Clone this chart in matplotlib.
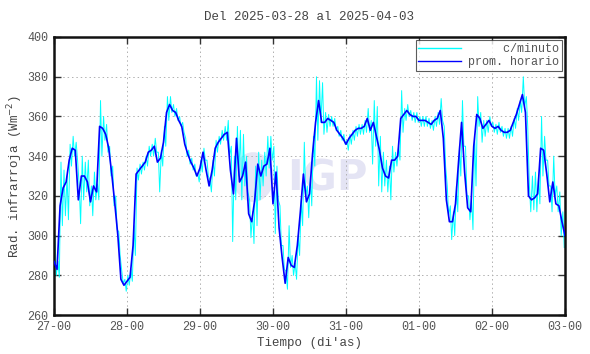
import numpy as np
import matplotlib
matplotlib.use("Agg")
import matplotlib.pyplot as plt
from matplotlib.patches import Ellipse

plt.rcParams['font.family'] = ['Liberation Mono', 'DejaVu Sans Mono']

title = "Del 2025-03-28 al 2025-04-03"
xlabel = "Tiempo (di'as)"
ylabel = "Rad. infrarroja (Wm$^{-2}$)"
tick_labels = ["27-00", "28-00", "29-00", "30-00", "31-00", "01-00", "02-00", "03-00"]
label_min = "c/minuto"
label_hour = "prom. horario"

# hourly mean (prom. horario), hours 0..168 from 27-00
hourly = [287, 283, 315, 324, 327, 338, 344, 343, 318, 330, 330, 327, 317, 325, 322, 355,
          354, 351, 344, 331, 316, 300, 278, 275, 277, 279, 295, 331, 333, 335, 337, 342,
          343, 345, 337, 339, 347, 362, 366, 363, 362, 358, 355, 346, 341, 337, 334, 330,
          334, 342, 333, 325, 333, 344, 347, 349, 351, 352, 333, 321, 349, 327, 330, 337,
          311, 307, 318, 336, 330, 335, 336, 344, 316, 332, 304, 289, 276, 289, 285, 284,
          295, 312, 331, 317, 321, 341, 357, 368, 357, 357, 359, 358, 357, 353, 351, 349,
          346, 349, 351, 353, 354, 354, 355, 359, 353, 357, 350, 343, 334, 330, 329, 338,
          338, 340, 359, 361, 363, 361, 360, 360, 358, 358, 358, 357, 356, 358, 359, 363,
          349, 318, 307, 307, 316, 337, 357, 332, 314, 312, 345, 361, 359, 354, 356, 358,
          355, 354, 355, 353, 352, 352, 353, 357, 361, 366, 371, 362, 320, 318, 319, 321,
          344, 343, 331, 317, 327, 316, 315, 307, 300]

# per-minute data: highest and lowest readings within each hour
minute_max = [300, 287, 337, 333, 330, 346, 350, 347, 325, 340, 337, 338, 325, 332, 326, 368,
              360, 356, 345, 335, 320, 302, 282, 278, 280, 283, 305, 334, 336, 337, 340, 345,
              346, 349, 342, 343, 355, 370, 370, 366, 364, 360, 357, 349, 343, 339, 336, 331,
              338, 344, 338, 328, 338, 348, 350, 353, 355, 358, 345, 340, 355, 353, 351, 340,
              318, 312, 335, 342, 338, 342, 350, 350, 345, 335, 315, 295, 282, 305, 290, 286,
              300, 318, 347, 325, 330, 350, 380, 378, 377, 362, 361, 360, 359, 355, 353, 351,
              348, 351, 353, 355, 356, 356, 358, 364, 358, 368, 365, 350, 342, 338, 335, 345,
              342, 345, 373, 364, 366, 363, 362, 362, 360, 360, 360, 359, 358, 360, 362, 369,
              355, 325, 315, 312, 325, 345, 368, 345, 320, 318, 350, 370, 362, 358, 358, 360,
              357, 356, 357, 355, 354, 354, 355, 359, 364, 368, 380, 370, 325, 330, 332, 330,
              360, 350, 338, 325, 340, 325, 322, 312]
minute_min = [280, 279, 305, 310, 308, 335, 340, 338, 306, 318, 322, 315, 310, 318, 318, 340,
              348, 342, 330, 315, 303, 290, 276, 272, 275, 277, 290, 328, 331, 333, 335, 340,
              340, 342, 322, 335, 345, 358, 362, 360, 358, 355, 352, 340, 336, 333, 330, 327,
              332, 338, 330, 322, 330, 342, 346, 348, 348, 340, 297, 318, 330, 318, 325, 322,
              299, 296, 305, 318, 325, 330, 334, 338, 301, 318, 295, 283, 273, 284, 280, 278,
              290, 305, 320, 309, 315, 335, 348, 357, 351, 352, 355, 355, 353, 350, 348, 346,
              343, 346, 348, 350, 351, 351, 352, 352, 336, 345, 325, 322, 325, 322, 318, 332,
              335, 338, 352, 358, 360, 358, 357, 357, 355, 355, 355, 354, 353, 355, 356, 358,
              335, 310, 298, 300, 312, 330, 345, 320, 308, 303, 325, 355, 347, 350, 352, 355,
              352, 351, 352, 350, 349, 349, 350, 354, 358, 362, 365, 355, 312, 313, 312, 316,
              330, 338, 325, 312, 320, 312, 300, 294]

hours = np.arange(len(hourly))
n = len(minute_max)
t_min = np.empty(2 * n)
v_min = np.empty(2 * n)
t_min[0::2] = np.arange(n) + 0.3
t_min[1::2] = np.arange(n) + 0.75
v_min[0::2] = minute_max
v_min[1::2] = minute_min

fig = plt.figure(figsize=(5.9, 3.54), dpi=100)
ax = fig.add_axes([0.0915, 0.110, 0.8661, 0.7855])

# watermark
ax.add_patch(Ellipse((65.5, 329.5), 13.5, 25, facecolor='#e6e6f5', edgecolor='none', zorder=0))
ax.text(76.5, 329, "IGP", fontsize=30, fontweight='bold', family='DejaVu Sans',
        color='#e4e4f4', ha='left', va='center', zorder=0)

ax.plot(t_min, v_min, color='#00ffff', lw=0.7, label=label_min.rjust(13), zorder=2)
ax.plot(hours, hourly, color='#0000ff', lw=1.2, label=label_hour, zorder=3)

ax.set_xlim(0, 168)
ax.set_ylim(260, 400)
ax.set_xticks(np.arange(0, 169, 24))
ax.set_xticklabels(tick_labels)
ax.set_yticks(np.arange(260, 401, 20))
ax.grid(True, color='#b0b0b0', linestyle=(0, (1.5, 3)), linewidth=0.7)
ax.tick_params(direction='in', top=True, right=True, length=5, width=1.0,
               labelsize=8.5, colors='#333333', labelcolor='#555555', pad=4)
for s in ax.spines.values():
    s.set_linewidth(1.8)
    s.set_color('#111111')

ax.set_title(title, fontsize=9, color='#444444', pad=12)
ax.set_xlabel(xlabel, fontsize=9, color='#444444', labelpad=3)
ax.set_ylabel(ylabel, fontsize=9, color='#444444', labelpad=2)

leg = ax.legend(loc='upper right', fontsize=8.5, frameon=True, fancybox=False,
                borderpad=0.25, handlelength=3.6, handletextpad=0.6, labelspacing=0.1,
                borderaxespad=0.25)
leg.get_frame().set_edgecolor('#333333')
leg.get_frame().set_linewidth(0.8)
for line in leg.get_lines():
    line.set_linewidth(1.0)
for t in leg.get_texts():
    t.set_color('#555555')

fig.savefig("out.png", dpi=100)
